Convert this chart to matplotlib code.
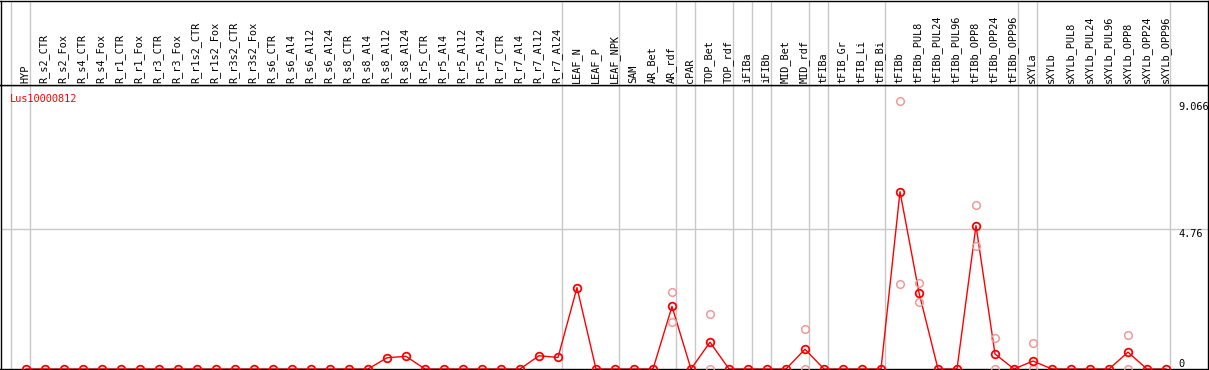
import matplotlib
matplotlib.use("Agg")
import matplotlib.pyplot as plt
import matplotlib.transforms as mtransforms

#sample names along the x axis
samples = ["HYP",
           "R_s2_CTR", "R_s2_Fox", "R_s4_CTR", "R_s4_Fox", "R_r1_CTR", "R_r1_Fox",
           "R_r3_CTR", "R_r3_Fox", "R_r1s2_CTR", "R_r1s2_Fox", "R_r3s2_CTR", "R_r3s2_Fox",
           "R_s6_CTR", "R_s6_Al4", "R_s6_Al12", "R_s6_Al24", "R_s8_CTR", "R_s8_Al4",
           "R_s8_Al12", "R_s8_Al24", "R_r5_CTR", "R_r5_Al4", "R_r5_Al12", "R_r5_Al24",
           "R_r7_CTR", "R_r7_Al4", "R_r7_Al12", "R_r7_Al24",
           "LEAF_N", "LEAF_P", "LEAF_NPK", "SAM", "AR_Bet", "AR_rdf", "cPAR",
           "TOP_Bet", "TOP_rdf", "iFIBa", "iFIBb", "MID_Bet", "MID_rdf",
           "tFIBa", "tFIB_Gr", "tFIB_Li", "tFIB_Bi", "tFIBb",
           "tFIBb_PUL8", "tFIBb_PUL24", "tFIBb_PUL96", "tFIBb_OPP8", "tFIBb_OPP24", "tFIBb_OPP96",
           "sXYLa", "sXYLb",
           "sXYLb_PUL8", "sXYLb_PUL24", "sXYLb_PUL96", "sXYLb_OPP8", "sXYLb_OPP24", "sXYLb_OPP96"]

#mean expression per sample
means = [0,
         0, 0, 0, 0, 0, 0,
         0, 0, 0, 0, 0, 0,
         0, 0, 0, 0, 0, 0,
         0.38, 0.43, 0, 0, 0, 0,
         0, 0, 0.45, 0.39,
         2.76, 0, 0, 0, 0, 2.12, 0,
         0.91, 0, 0, 0, 0, 0.67,
         0, 0, 0, 0, 6.01,
         2.59, 0, 0, 4.86, 0.51, 0,
         0.27, 0,
         0, 0, 0, 0.57, 0, 0]

#individual replicates (pale circles)
rep_samples = ["AR_rdf", "AR_rdf", "TOP_Bet", "TOP_Bet", "MID_rdf", "MID_rdf",
               "tFIBb", "tFIBb", "tFIBb_PUL8", "tFIBb_PUL8", "tFIBb_OPP8", "tFIBb_OPP8",
               "tFIBb_OPP24", "tFIBb_OPP24", "sXYLa", "sXYLa", "sXYLb_OPP8", "sXYLb_OPP8"]
rep_values = [2.60, 1.61, 1.85, 0, 1.34, 0,
              9.10, 2.87, 2.91, 2.27, 5.55, 4.17,
              1.04, 0, 0.88, 0, 1.15, 0]

#last sample of each group (grey separators)
group_ends = ["HYP", "R_r7_Al24", "LEAF_NPK", "AR_rdf", "cPAR", "TOP_rdf", "iFIBa",
              "iFIBb", "MID_rdf", "tFIBa", "tFIB_Bi", "tFIBb_OPP96", "sXYLa", "sXYLb_OPP96"]

y_ticks = [9.066, 4.76, 0]
y_tick_labels = ["9.066", "4.76", "0"]
gene = "Lus10000812"

W, H = 1209, 370
fig = plt.figure(figsize=(W / 100, H / 100), dpi=100)
mono = "DejaVu Sans Mono"
grey = "#c8c8c8"
fs = 7.4

xlim = ((0.5 - 26) / 19, (1208 - 26) / 19)
ax = fig.add_axes([0.5 / W, 1 / H, 1207.5 / W, 284 / H])
top = fig.add_axes([0.5 / W, 285 / H, 1207.5 / W, 84.5 / H], sharex=ax)

xs = list(range(len(samples)))
ax.set_xlim(*xlim)
ax.set_ylim(0, 284 / 29.5)
top.set_ylim(0, 1)

for a in (ax, top):
    a.tick_params(left=False, bottom=False, labelleft=False, labelbottom=False)
    for s in a.spines.values():
        s.set_color("black")
        s.set_linewidth(1.0)
    #group separators
    a.axvline(-1 + 4 / 19, color=grey, lw=1, zorder=0)
    for name in group_ends:
        a.axvline(samples.index(name) + 4 / 19, color=grey, lw=1, zorder=0)

ax.axhline(4.76, color=grey, lw=1, zorder=0)

ax.plot(xs, means, color="red", lw=1, zorder=2)
rep_x = [samples.index(n) for n in rep_samples]
ax.plot(rep_x, rep_values, ls="none", marker="o", ms=5.5, mfc="none",
        mec="#f09a9a", mew=1.1, zorder=3)
ax.plot(xs, means, ls="none", marker="o", ms=5.5, mfc="none",
        mec="red", mew=1.3, zorder=4)

#right side value labels
trans_r = mtransforms.blended_transform_factory(fig.transFigure, ax.transData)
for v, lab in zip(y_ticks, y_tick_labels):
    ax.text(1178 / W, v, lab, transform=trans_r, ha="left",
            va="bottom" if v == 0 else "top", fontsize=fs, family=mono)

ax.text(10 / W, 0.97, gene, transform=mtransforms.blended_transform_factory(fig.transFigure, ax.transAxes),
        color="red", fontsize=fs, family=mono, ha="left", va="top")

#rotated sample labels
trans_t = mtransforms.blended_transform_factory(top.transData, fig.transFigure)
for i, name in enumerate(samples):
    top.text(i - 0.05, (H - 83) / H, name, transform=trans_t, rotation=90,
             ha="center", va="bottom", fontsize=fs, family=mono)

fig.savefig("out.png", dpi=100)
